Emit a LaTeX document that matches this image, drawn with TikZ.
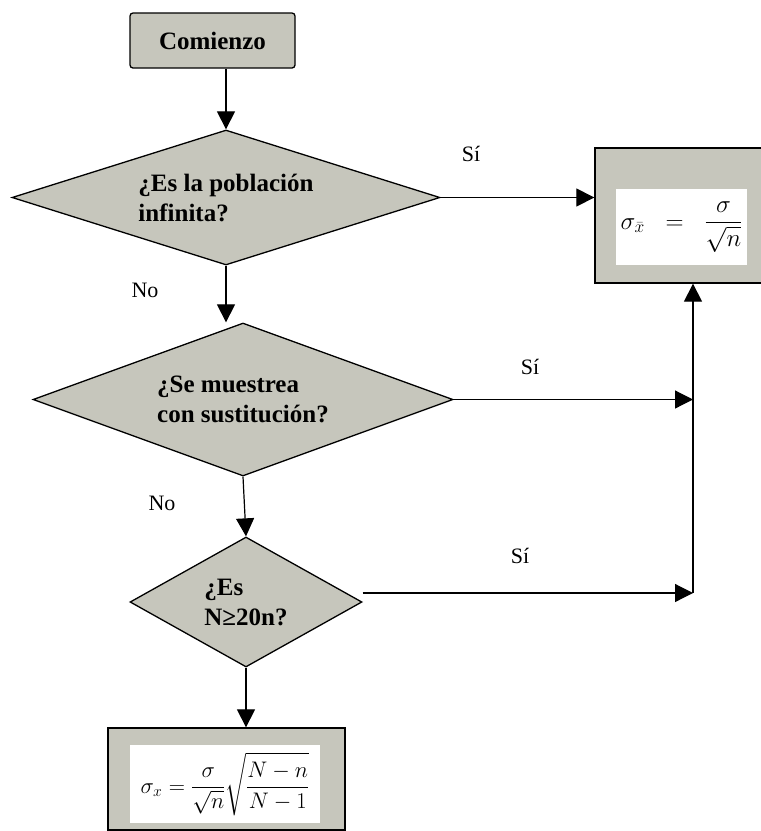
\RequirePackage{fix-cm}
\documentclass[tikz,border=0pt]{standalone}
\usepackage{fontspec}
\setmainfont{Liberation Serif}
\usepackage{amsmath}
\usetikzlibrary{shapes.geometric,arrows.meta}
\definecolor{boxgray}{RGB}{198,198,188}

\begin{document}
\begin{tikzpicture}[x=1pt,y=-1pt]
	\tikzstyle{decision}=[diamond,draw=black,line width=1.3pt,fill=boxgray,inner sep=0pt,align=left,font=\fontsize{25}{30}\selectfont\bfseries]
	\tikzstyle{result}=[rectangle,draw=black,line width=1.3pt,fill=boxgray]
	\tikzstyle{formula}=[rectangle,fill=white,inner sep=0pt,font=\fontsize{22.5}{26}\selectfont]
	\tikzstyle{answer}=[font=\fontsize{22}{26}\selectfont]
	\tikzstyle{arrow}=[line width=1.2pt,-{Triangle[width=18pt,length=18pt]}]
	\useasboundingbox (0,0) rectangle (761,831);
	\node[result,rounded corners=3pt,minimum width=165pt,minimum height=55pt,font=\fontsize{25}{30}\selectfont\bfseries](c0) at (212.5,40.5) {Comienzo};
	\node[decision,aspect=3.17,minimum width=428pt,minimum height=135pt](d1) at (226,197.5) {¿Es la población\\infinita?};
	\node[decision,aspect=2.75,minimum width=420pt,minimum height=153pt](d2) at (243,399.5) {¿Se muestrea\\con sustitución?};
	\node[decision,aspect=1.78,minimum width=232pt,minimum height=130pt](d3) at (246,602) {¿Es\\N≥20n?};
	\node[result,minimum width=170pt,minimum height=135pt](r1) at (680,215.5) {};
	\node[formula,minimum width=131pt,minimum height=76pt,font=\fontsize{25}{30}\selectfont](f1) at (681.5,227) {$\displaystyle\sigma_{\bar{x}} \;\;=\;\; \frac{\sigma}{\sqrt{n}}$};
	\node[result,minimum width=237pt,minimum height=102pt](r2) at (226.5,779) {};
	\node[formula,minimum width=190pt,minimum height=78pt](f2) at (225,784) {$\displaystyle\sigma_{x} = \frac{\sigma}{\sqrt{n}}\sqrt{\frac{N-n}{N-1}}$};
	\coordinate (j3) at (693,593);
	\node[answer](si1) at (471,154) {Sí};
	\node[answer](si2) at (530,367) {Sí};
	\node[answer](si3) at (520,556) {Sí};
	\node[answer](no1) at (145,290) {No};
	\node[answer](no2) at (162,503) {No};
	\draw[arrow](c0.south -| d1.north) -- (d1.north);
	\draw[arrow](d1.south) -- (d1.south |- d2.north);
	\draw[arrow](d2.south) -- (d3.north);
	\draw[arrow](d3.south) -- (d3.south |- r2.north);
	\draw[arrow](d1.east) -- (d1.east -| r1.west);
	\draw[arrow](d2.east) -- (d2.east -| j3);
	\draw[arrow]([yshift=9pt]d3.east) -- (j3);
	\draw[arrow](j3) -- (j3 |- r1.south);
\end{tikzpicture}
\end{document}
